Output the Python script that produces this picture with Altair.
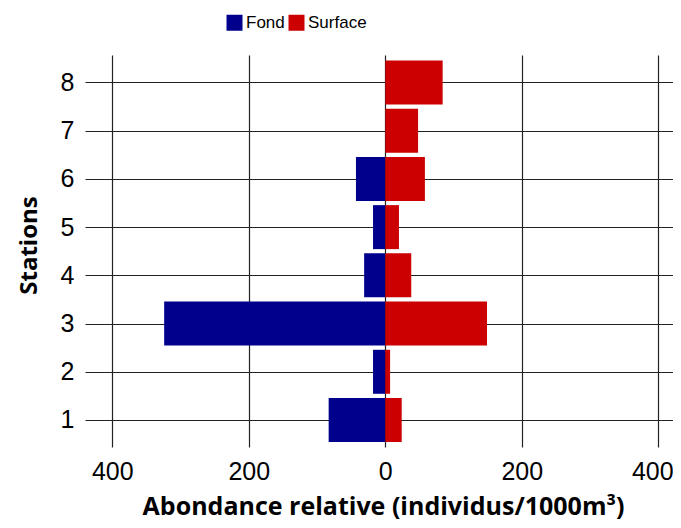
import altair as alt
import pandas as pd

stations = [1, 2, 3, 4, 5, 6, 7, 8]
fond = [83, 18, 324, 31, 18, 43, 0, 0]
surface = [24, 7, 149, 38, 20, 58, 48, 84]
series_names = ["Fond", "Surface"]
series_colors = ["#00008C", "#CC0000"]
x_ticks = [-400, -200, 0, 200, 400]

rows = []
for s, f, su in zip(stations, fond, surface):
    rows.append({"station": s, "serie": "Fond", "value": -f})
    rows.append({"station": s, "serie": "Surface", "value": su})
df = pd.DataFrame(rows)

label_font = "Liberation Sans"
title_font = "Open Sans"

chart = alt.Chart(df).mark_bar(orient="horizontal", size=44).encode(
    x=alt.X(
        "value:Q",
        stack=None,
        scale=alt.Scale(domain=[-440, 421.5], nice=False, zero=False, padding=0),
        axis=alt.Axis(
            values=x_ticks,
            labelExpr="abs(datum.value)",
            title="Abondance relative (individus/1000m³)",
            titleFont=title_font,
            titleFontWeight="bold",
            titleFontSize=25,
            titleColor="black",
            titleX=298,
            titleY=67,
            titleAlign="center",
            titleBaseline="alphabetic",
            labelFont=label_font,
            labelFontSize=25,
            labelColor="black",
            labelPadding=12,
            labelOffset={"condition": {"test": "datum.value == 400", "value": -6}, "value": 0},
            ticks=False,
            domain=False,
            grid=True,
            gridColor="#222222",
            gridWidth=1.2,
        ),
    ),
    y=alt.Y(
        "station:Q",
        scale=alt.Scale(domain=[0.44, 8.57], nice=False, zero=False, padding=0),
        axis=alt.Axis(
            values=stations,
            format="d",
            title="Stations",
            titleFont=title_font,
            titleFontWeight="bold",
            titleFontSize=24,
            titleColor="black",
            titleX=-49,
            titleY=190,
            titleAlign="center",
            titleAngle=-90,
            titleBaseline="alphabetic",
            labelFont=label_font,
            labelFontSize=25,
            labelColor="black",
            labelPadding=11,
            ticks=False,
            domain=False,
            grid=True,
            gridColor="#222222",
            gridWidth=1.2,
        ),
    ),
    color=alt.Color(
        "serie:N",
        scale=alt.Scale(domain=series_names, range=series_colors),
        legend=alt.Legend(
            orient="none",
            legendX=141,
            legendY=-41,
            direction="horizontal",
            title=None,
            symbolType="square",
            symbolSize=256,
            symbolStrokeWidth=0,
            symbolOpacity=1,
            labelFont=label_font,
            labelFontSize=17,
            labelColor="black",
            labelOffset=3,
            columnPadding=3,
            padding=0,
        ),
    ),
).properties(
    width=588,
    height=392,
    autosize=alt.AutoSizeParams(type="none"),
    padding={"left": 77, "top": 47, "right": 0, "bottom": 73},
).configure_view(stroke=None)

chart.save("out.html", embed_options={"renderer": "svg", "actions": False})
